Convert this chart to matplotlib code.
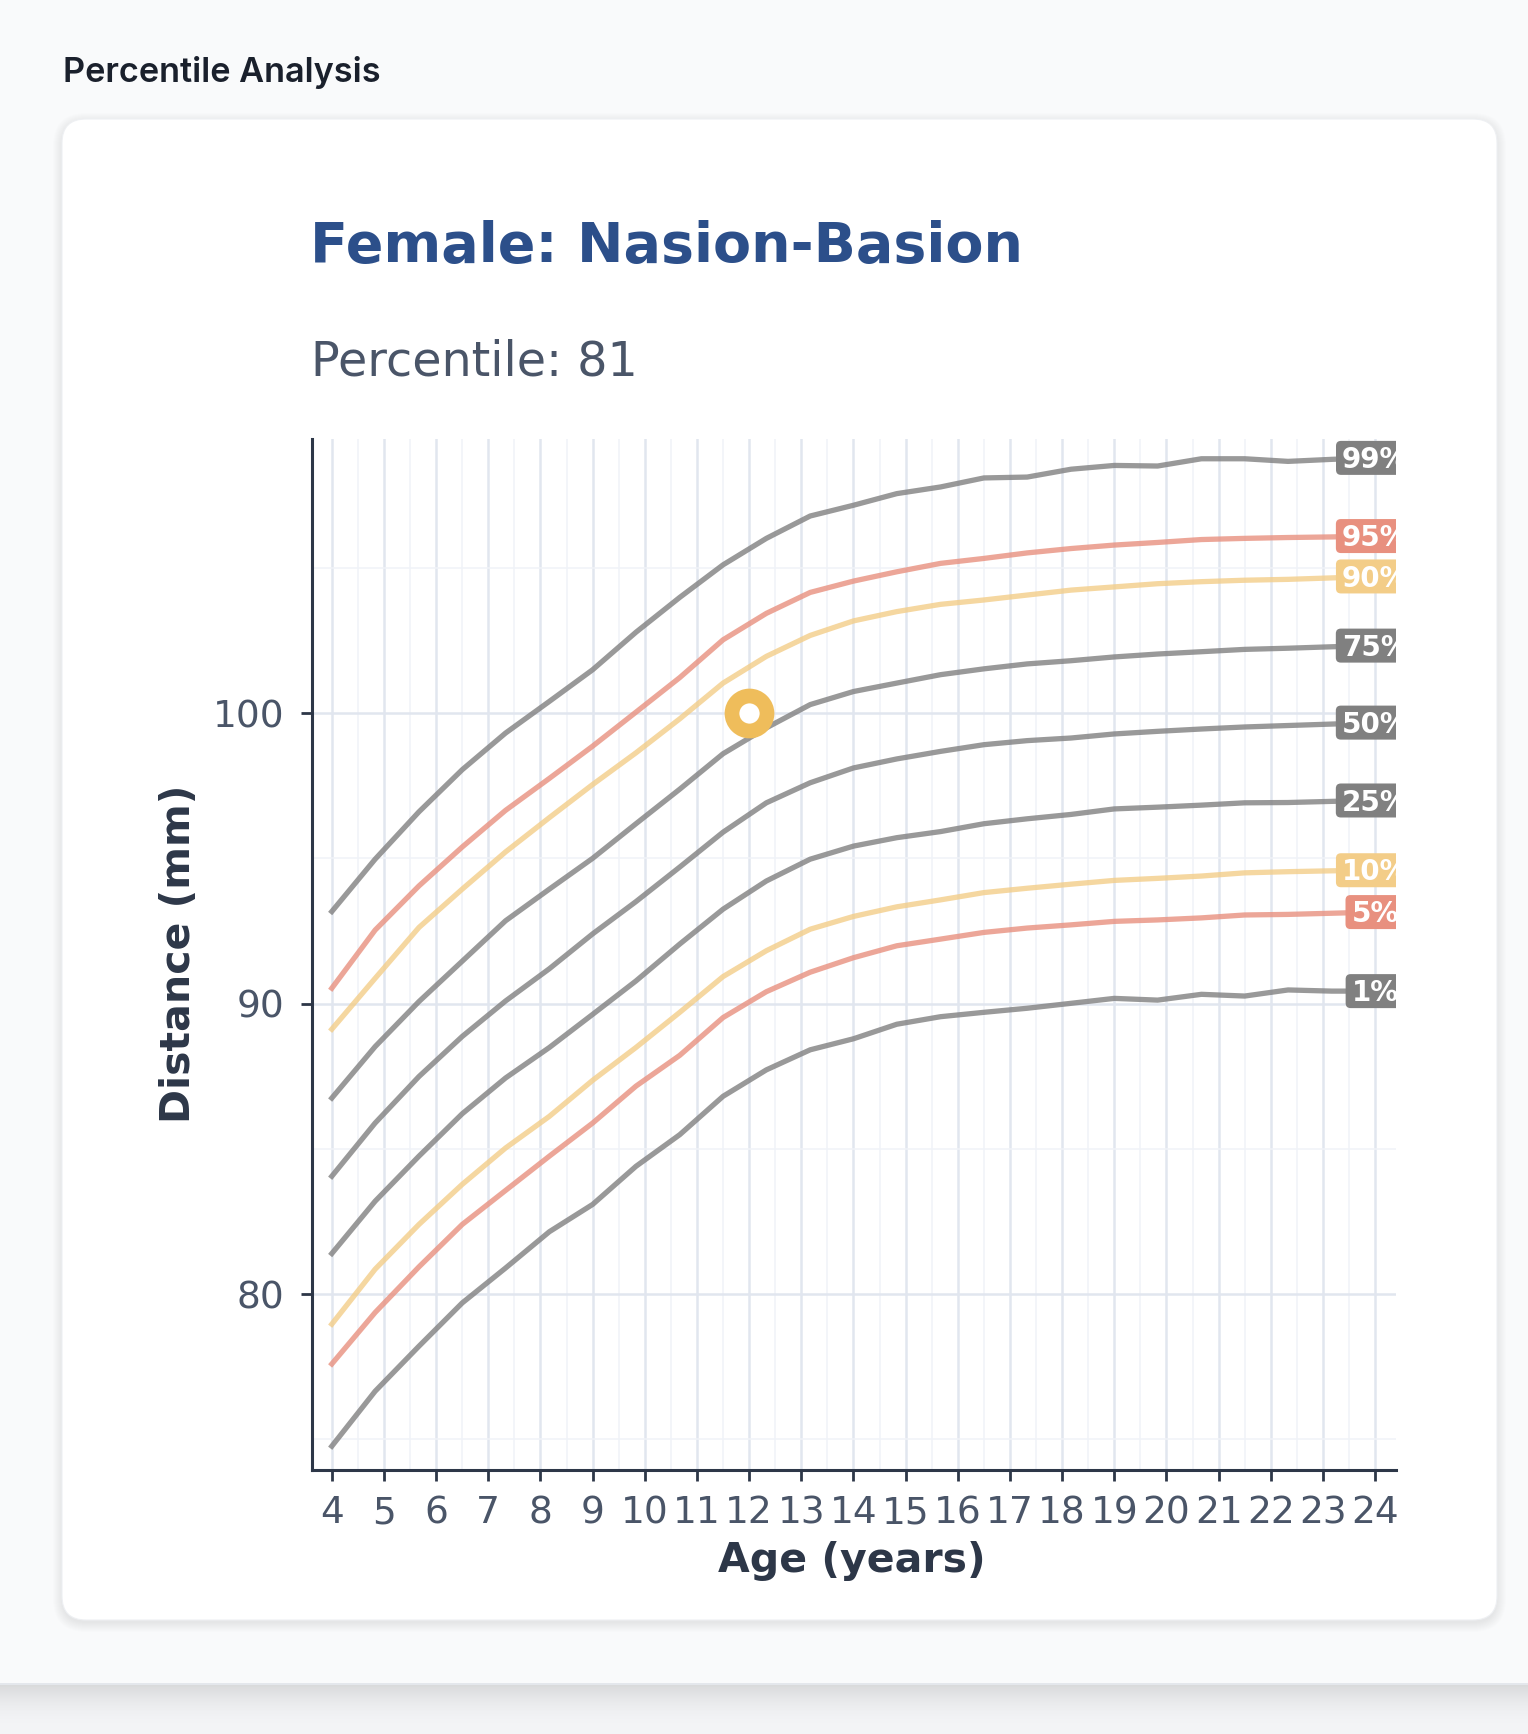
"""Female Nasion-Basion percentile chart, redrawn as a static card."""

import matplotlib
matplotlib.use("Agg")
import matplotlib.pyplot as plt
import numpy as np
from matplotlib.patches import FancyBboxPatch, Rectangle
from matplotlib.transforms import IdentityTransform, ScaledTranslation

W, H = 1528, 1734

# --- data ------------------------------------------------------------------
ages = [4.0, 4.83, 5.67, 6.5, 7.33, 8.17, 9.0, 9.83, 10.67, 11.5, 12.33, 13.17,
        14.0, 14.83, 15.67, 16.5, 17.33, 18.17, 19.0, 19.83, 20.67, 21.5,
        22.33, 23.17, 24.0]

p1 = [74.77, 76.66, 78.21, 79.70, 80.90, 82.15, 83.09, 84.40, 85.49, 86.81,
      87.72, 88.41, 88.79, 89.29, 89.55, 89.70, 89.84, 90.01, 90.18, 90.12,
      90.32, 90.26, 90.47, 90.43, 90.43]
p5 = [77.60, 79.37, 80.94, 82.40, 83.57, 84.75, 85.89, 87.16, 88.22, 89.52,
      90.41, 91.08, 91.58, 91.99, 92.22, 92.45, 92.60, 92.71, 92.83, 92.88,
      92.95, 93.05, 93.07, 93.11, 93.15]
p10 = [78.97, 80.86, 82.40, 83.78, 85.03, 86.12, 87.36, 88.49, 89.70, 90.93,
       91.82, 92.56, 93.00, 93.33, 93.57, 93.82, 93.97, 94.11, 94.24, 94.31,
       94.39, 94.50, 94.54, 94.57, 94.59]
p25 = [81.40, 83.20, 84.75, 86.21, 87.44, 88.49, 89.63, 90.78, 92.05, 93.25,
       94.22, 94.97, 95.42, 95.71, 95.92, 96.19, 96.36, 96.51, 96.70, 96.76,
       96.83, 96.91, 96.92, 96.96, 96.99]
p50 = [84.06, 85.89, 87.49, 88.87, 90.09, 91.20, 92.40, 93.51, 94.70, 95.90,
       96.91, 97.60, 98.11, 98.42, 98.68, 98.91, 99.05, 99.14, 99.28, 99.37,
       99.45, 99.52, 99.57, 99.62, 99.67]
p75 = [86.75, 88.52, 90.07, 91.46, 92.85, 93.94, 95.00, 96.19, 97.38, 98.60,
       99.49, 100.29, 100.74, 101.03, 101.32, 101.52, 101.69, 101.80, 101.93,
       102.03, 102.11, 102.19, 102.23, 102.28, 102.32]
p90 = [89.12, 90.87, 92.62, 93.94, 95.22, 96.40, 97.54, 98.63, 99.80, 101.03,
       101.95, 102.67, 103.17, 103.49, 103.74, 103.89, 104.06, 104.23, 104.34,
       104.45, 104.52, 104.57, 104.60, 104.65, 104.70]
p95 = [90.53, 92.53, 94.05, 95.39, 96.65, 97.75, 98.86, 100.03, 101.22, 102.52,
       103.43, 104.15, 104.54, 104.86, 105.15, 105.32, 105.51, 105.66, 105.78,
       105.87, 105.97, 106.01, 106.04, 106.06, 106.09]
p99 = [93.17, 94.97, 96.60, 98.05, 99.31, 100.40, 101.49, 102.78, 103.98,
       105.10, 106.01, 106.78, 107.15, 107.55, 107.78, 108.09, 108.12, 108.39,
       108.52, 108.50, 108.75, 108.75, 108.66, 108.73, 108.78]

percentile_names = ["1%", "5%", "10%", "25%", "50%", "75%", "90%", "95%", "99%"]
percentile_values = [p1, p5, p10, p25, p50, p75, p90, p95, p99]

patient_age = 12
patient_value = 100
patient_percentile = 81

x_ticks = list(range(4, 25))
y_ticks = [80, 90, 100]

# --- styling ---------------------------------------------------------------
GREY = "#808080"
SALMON = "#E8907F"
YELLOW = "#F3CD88"
band_colors = {"1%": GREY, "5%": SALMON, "10%": YELLOW, "25%": GREY,
               "50%": GREY, "75%": GREY, "90%": YELLOW, "95%": SALMON,
               "99%": GREY}
DARK = "#2d3748"
MUTED = "#4a5568"
LABEL_FS = 20


def px(x, y):
    """Pixel position (from top-left) to figure fraction."""
    return x / W, 1 - y / H


fig = plt.figure(figsize=(W / 100, H / 100), dpi=100, facecolor="#f3f4f6")

# page panel and its shadow
fig.add_artist(Rectangle((0, H - 1684), W, 1684, transform=IdentityTransform(),
                         fc="#f9fafb", ec="none", zorder=-10))
for i in range(45):
    a = 0.11 * (1 - i / 45) ** 2
    fig.add_artist(Rectangle((0, H - 1685 - i), W, 1, transform=IdentityTransform(),
                             fc="black", alpha=a, ec="none", zorder=-9))
fig.add_artist(Rectangle((0, H - 1685), W, 2, transform=IdentityTransform(),
                         fc="#e4e7ec", ec="none", zorder=-8))

# card shadow + card
cx0, cy0, cx1, cy1 = 62, 119, 1497, 1620
for k in range(10):
    fig.add_artist(FancyBboxPatch(
        (cx0 - k, H - cy1 - k - 3), cx1 - cx0 + 2 * k, cy1 - cy0 + 2 * k,
        boxstyle=f"round,pad=0,rounding_size={24 + k}",
        transform=IdentityTransform(), fc="black", ec="none", alpha=0.006,
        zorder=-7))
fig.add_artist(FancyBboxPatch(
    (cx0, H - cy1), cx1 - cx0, cy1 - cy0,
    boxstyle="round,pad=0,rounding_size=24", transform=IdentityTransform(),
    fc="white", ec="#eef0f3", lw=0.8, zorder=-6))

# headings
fig.text(*px(63, 82), "Percentile Analysis", fontfamily="Inter",
         fontweight="semibold", fontsize=24.7, color="#1a202c", va="baseline")
fig.text(*px(310, 262), "Female: Nasion-Basion", fontsize=40.0,
         fontweight="bold", color="#2c4f8a", va="baseline")
fig.text(*px(311, 376), f"Percentile: {patient_percentile}", fontsize=34.3,
         color=MUTED, va="baseline")

# --- chart -----------------------------------------------------------------
left, top, right, bottom = 312, 439, 1396, 1470
ax = fig.add_axes([left / W, 1 - bottom / H, (right - left) / W, (bottom - top) / H])
ax.set_facecolor("none")

for name, vals in zip(percentile_names, percentile_values):
    ax.plot(ages, vals, color=band_colors[name], lw=3.8, alpha=0.8, zorder=3)

ax.plot([patient_age], [patient_value], "o", ms=25.2, mew=10.6, mfc="white",
        mec="#EFBD5B", zorder=8)

ax.set_xlim(3.62, 24.4)
ax.set_ylim(73.95, 109.43)
ax.set_xticks(x_ticks)
ax.set_xticks(np.arange(4.5, 24, 1), minor=True)
ax.set_yticks(y_ticks)
ax.set_yticks([75, 85, 95, 105], minor=True)
ax.set_axisbelow(True)
ax.grid(which="major", color="#e1e6ef", lw=1.8)
ax.grid(which="minor", color="#f0f3f8", lw=1.1)
ax.tick_params(which="major", length=8, width=2, color=DARK, labelsize=27,
               labelcolor=MUTED)
ax.tick_params(axis="x", which="major", pad=10)
ax.tick_params(axis="y", which="major", pad=12)
ax.tick_params(which="minor", length=0)
for side in ("top", "right"):
    ax.spines[side].set_visible(False)
for side in ("left", "bottom"):
    ax.spines[side].set_color(DARK)
    ax.spines[side].set_linewidth(2.2)

fig.text(*px(852, 1561), "Age (years)", fontsize=29.5, fontweight="bold",
         color=DARK, ha="center", va="center")
fig.text(*px(179, 954), "Distance (mm)", fontsize=29.5, fontweight="bold",
         color=DARK, ha="center", va="center", rotation=90)

# end-of-line percentile tags (clipped at the plot edge like the original)
shift = ScaledTranslation(0, -0.365 * LABEL_FS / 72, fig.dpi_scale_trans)
tags = []
for name, vals in zip(percentile_names, percentile_values):
    t = ax.text(ages[-1], vals[-1], name, transform=ax.transData + shift,
                ha="center", va="baseline", fontsize=LABEL_FS,
                fontweight="bold", color="white", zorder=7)
    t.set_clip_box(ax.bbox)
    t.set_clip_on(True)
    tags.append((t, vals[-1], band_colors[name]))

fig.canvas.draw()
renderer = fig.canvas.get_renderer()
for t, yv, col in tags:
    bb = t.get_window_extent(renderer)
    _, yc = ax.transData.transform((ages[-1], yv))
    box = FancyBboxPatch((bb.x0 - 6, yc - 17), bb.width + 12, 34,
                         boxstyle="round,pad=0,rounding_size=5",
                         transform=IdentityTransform(), fc=col, ec="none",
                         zorder=6)
    ax.add_artist(box)
    box.set_clip_box(ax.bbox)
    box.set_clip_on(True)

fig.savefig("out.png", dpi=100, facecolor=fig.get_facecolor())
